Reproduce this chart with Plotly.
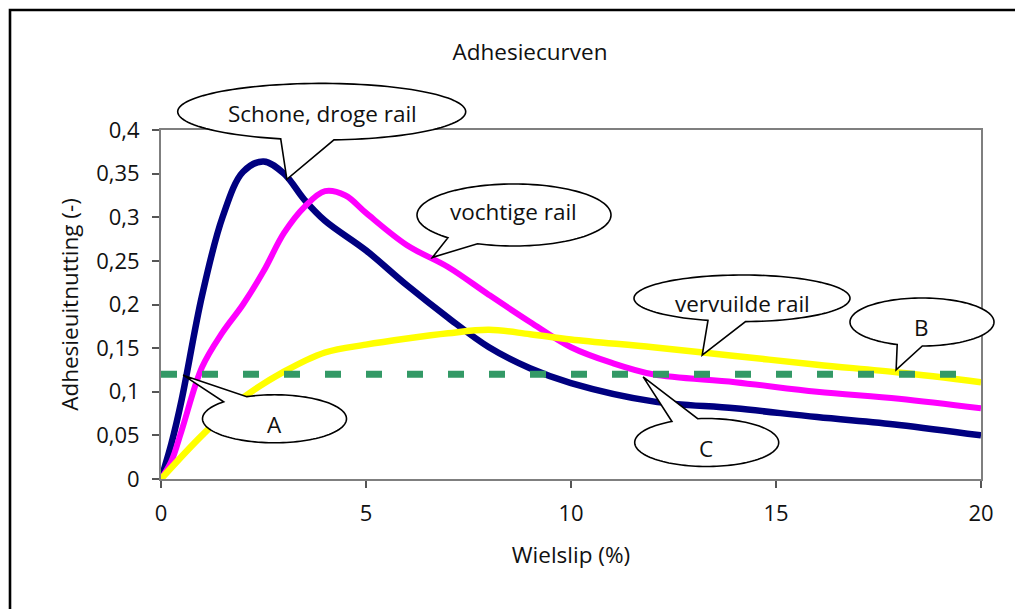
import numpy as np
import plotly.graph_objects as go

# ---------------- data ----------------
x_droog = [0, 0.25, 0.5, 1, 1.5, 2, 2.5, 3, 3.5, 4, 5, 6, 7, 8, 9, 10, 12, 14, 16, 18, 20]
y_droog = [0, 0.04, 0.09, 0.21, 0.30, 0.352, 0.364, 0.350, 0.320, 0.296, 0.262, 0.222,
           0.185, 0.151, 0.127, 0.110, 0.089, 0.081, 0.071, 0.062, 0.050]

x_vocht = [0, 0.25, 0.5, 1, 1.5, 2, 2.5, 3, 3.5, 4, 4.5, 5, 6, 7, 8, 9, 10, 11, 12, 14, 16, 18, 20]
y_vocht = [0, 0.02, 0.055, 0.128, 0.168, 0.200, 0.238, 0.282, 0.312, 0.330, 0.325, 0.305, 0.268,
           0.243, 0.211, 0.180, 0.151, 0.133, 0.120, 0.111, 0.100, 0.092, 0.081]

x_vuil = [0, 1, 2, 3, 4, 5, 6, 7, 8, 9, 10, 12, 14, 16, 18, 20]
y_vuil = [0, 0.05, 0.093, 0.123, 0.145, 0.154, 0.161, 0.167, 0.171, 0.166, 0.160, 0.151,
          0.141, 0.131, 0.122, 0.111]

x_grens = [0, 20]
y_grens = [0.12, 0.12]

x_ticks = [0, 5, 10, 15, 20]
y_ticks = [0, 0.05, 0.1, 0.15, 0.2, 0.25, 0.3, 0.35, 0.4]

# callout texts and the data points they point at
callout_text = ["Schone, droge rail", "vochtige rail", "vervuilde rail", "B", "C", "A"]
callout_tip_x = [3.07, 6.62, 13.2, 17.93, 11.76, 0.54]
callout_tip_y = [0.3435, 0.254, 0.142, 0.125, 0.117, 0.119]

# ---------------- layout geometry (screen pixels) ----------------
OFF = 8                      # default body margin of the page
W, H = 1023 - OFF, 609 - OFF
PL, PR, PT, PB = 161, 981, 130, 479
XMAX, YMAX = 20, 0.4
FONT = "Open Sans"
TXT = 22.5


def px(x):
    return (x - PL) / (PR - PL)


def py(y):
    return (PB - y) / (PB - PT)


def data_to_pix(x, y):
    return PL + x / XMAX * (PR - PL), PB - y / YMAX * (PB - PT)


# ellipse centre, radii, tail base points, text centre (pixels)
callout_geom = [
    dict(c=(321.7, 111.7), r=(144, 28.3), b1=(280, 139.3), b2=(334.3, 140.7), t=(322, 113)),
    dict(c=(514, 215), r=(97, 31), b1=(443.3, 239.3), b2=(471.7, 248.3), t=(513, 211)),
    dict(c=(742, 298.3), r=(108, 23.3), b1=(706, 321.7), b2=(745.7, 322.7), t=(742, 303)),
    dict(c=(922, 322), r=(72, 24), b1=(896.7, 345), b2=(922.3, 347.3), t=(921, 327)),
    dict(c=(706.7, 442.5), r=(72, 24), b1=(672.3, 421.7), b2=(697.7, 418.7), t=(706, 448)),
    dict(c=(274.5, 418.8), r=(72, 24), b1=(223.3, 401.7), b2=(246, 396), t=(274, 424)),
]


def callout_path(g, tip):
    cx, cy = g["c"]
    rx, ry = g["r"]

    def ang(p):
        return np.arctan2((p[1] - cy) / ry, (p[0] - cx) / rx)

    ta, tb = ang(g["b1"]), ang(g["b2"])
    d = (tb - ta) % (2 * np.pi)
    if d > np.pi:
        ta, tb = tb, ta
        d = 2 * np.pi - d
    ts = np.linspace(tb, tb + (2 * np.pi - d), 120)
    pts = [(cx + rx * np.cos(t), cy + ry * np.sin(t)) for t in ts]
    pts.append(tip)
    return "M " + " L ".join(f"{px(a):.5f},{py(b):.5f}" for a, b in pts) + " Z"


fig = go.Figure()
fig.add_trace(go.Scatter(x=x_droog, y=y_droog, mode="lines", name="Schone, droge rail",
                         line=dict(color="#000080", width=6.5, shape="spline", smoothing=1.0)))
fig.add_trace(go.Scatter(x=x_vocht, y=y_vocht, mode="lines", name="vochtige rail",
                         line=dict(color="#FF00FF", width=6, shape="spline", smoothing=1.0)))
fig.add_trace(go.Scatter(x=x_vuil, y=y_vuil, mode="lines", name="vervuilde rail",
                         line=dict(color="#FFFF00", width=6.5, shape="spline", smoothing=1.0)))
fig.add_trace(go.Scatter(x=x_grens, y=y_grens, mode="lines", name="grens",
                         line=dict(color="#339966", width=7, dash="16px,25px")))

shapes = []
annotations = []
for txt, tx, ty, g in zip(callout_text, callout_tip_x, callout_tip_y, callout_geom):
    tip = data_to_pix(tx, ty)
    shapes.append(dict(type="path", xref="paper", yref="paper", path=callout_path(g, tip),
                       line=dict(color="black", width=1.6), fillcolor="white", layer="above"))
    annotations.append(dict(text=txt, xref="paper", yref="paper", x=px(g["t"][0]), y=py(g["t"][1]),
                            xanchor="center", yanchor="middle", showarrow=False,
                            font=dict(family=FONT, size=TXT, color="#111111")))

# outer frame
shapes.append(dict(type="rect", xref="paper", yref="paper", x0=px(10), y0=py(10), x1=px(1060),
                   y1=py(650), line=dict(color="black", width=2.6), fillcolor="rgba(0,0,0,0)",
                   layer="below"))

axis_common = dict(showgrid=False, zeroline=False, showline=True, linecolor="#7f7f7f", linewidth=2,
                   mirror=True, ticks="outside", ticklen=7, tickwidth=1.5, tickcolor="#555555",
                   tickfont=dict(family=FONT, size=22, color="#111111"))

fig.update_layout(
    width=W, height=H, autosize=False,
    margin=dict(l=PL - OFF, r=W - (PR - OFF), t=PT - OFF, b=H - (PB - OFF), pad=0),
    paper_bgcolor="white", plot_bgcolor="white",
    showlegend=False,
    separators=", ",
    title=dict(text="Adhesiecurven", x=(530 - OFF) / W, xref="container", xanchor="center",
               y=1 - (52 - OFF) / H, yref="container", yanchor="middle",
               font=dict(family=FONT, size=TXT, color="#111111")),
    xaxis=dict(range=[0, XMAX], tickvals=x_ticks, ticklabelstandoff=7,
               title=dict(text="Wielslip (%)", standoff=21, font=dict(family=FONT, size=TXT, color="#111111")),
               **axis_common),
    yaxis=dict(range=[0, YMAX], tickvals=y_ticks, ticklabelstandoff=8,
               title=dict(text="Adhesieuitnutting (-)", standoff=11,
                          font=dict(family=FONT, size=TXT, color="#111111")),
               **axis_common),
    shapes=shapes,
    annotations=annotations,
)

fig.write_html("out.html")
